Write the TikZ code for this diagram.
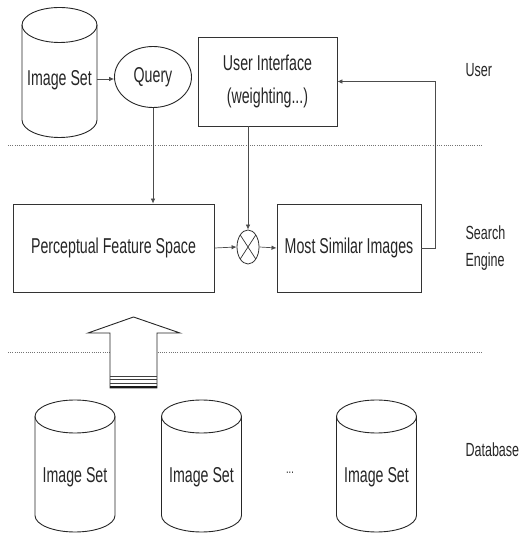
\documentclass[tikz,border=0pt]{standalone}
\usepackage{fontspec}
\setmainfont[FakeStretch=0.66]{Liberation Sans}
\usetikzlibrary{arrows.meta,shapes.geometric}

% cylinder outline: #1 name, #2 centre x, #3 top-ellipse centre y,
% #4 bottom-ellipse centre y, #5 x radius, #6 y radius
\newcommand\dbdrum[6]{%
  \draw[drum] (#2,#3) ellipse [x radius=#5, y radius=#6];
  \draw[drum] (#2-#5,#3) -- (#2-#5,#4)
     arc [start angle=180, end angle=360, x radius=#5, y radius=#6]
     -- (#2+#5,#3);
}

\begin{document}
\begin{tikzpicture}[x=1pt,y=1pt,
  every node/.style={font=\fontsize{21.5}{24}\selectfont, text=black!85},
  drum/.style={draw=black!85, line width=0.9pt},
  box/.style={draw=black!80, line width=0.9pt, rectangle, inner sep=0pt},
  conn/.style={draw=black!70, line width=0.7pt},
  tip/.style={-{Latex[length=5pt,width=4.5pt]}},
  sep/.style={draw=black!55, line width=0.9pt, dash pattern=on 1pt off 1.2pt},
  lbl/.style={font=\fontsize{19}{27}\selectfont, align=left, anchor=west}]
\useasboundingbox (0,0) rectangle (521,535);

% ---- user level ----
\dbdrum{set0}{59.5}{510}{415}{37.5}{17.5}
\node[minimum width=75, minimum height=60] (set0) at (59.5,455) {Image Set};
\node[draw=black!85, line width=0.9pt, ellipse, minimum width=77, minimum height=61, inner sep=0pt]
  (query) at (153,458) {Query};
\node[box, minimum width=139, minimum height=89, align=center,
      font=\fontsize{21.5}{33}\selectfont] (ui) at (267.5,453.5) {User Interface\\(weighting...)};
\node[lbl] (luser) at (462,465) {User};

\draw[sep] (8,390) -- (483,390);

% ---- search engine level ----
\node[box, minimum width=201, minimum height=88] (pfs) at (113.5,287) {Perceptual Feature Space};
\node[box, minimum width=144, minimum height=88] (msi) at (349,287) {Most Similar Images};
\node[draw=black!80, line width=0.8pt, ellipse, minimum width=22, minimum height=34, inner sep=0pt,
      path picture={\draw[black!80, line width=0.7pt]
        (path picture bounding box.north west) -- (path picture bounding box.south east)
        (path picture bounding box.south west) -- (path picture bounding box.north east);}]
  (mix) at (248,288) {};
\node[lbl] (lsearch) at (462,287) {Search\\Engine};

\draw[sep] (8,183) -- (483,183);

% ---- database level ----
\dbdrum{set1}{75}{118.5}{19.5}{40}{16.5}
\dbdrum{set2}{201.5}{118.5}{19.5}{40}{16.5}
\dbdrum{set3}{376.5}{118.5}{19.5}{40}{16.5}
\node[minimum width=80, minimum height=60] (set1) at (75,58) {Image Set};
\node[minimum width=80, minimum height=60] (set2) at (201.5,58) {Image Set};
\node[minimum width=80, minimum height=60] (set3) at (376.5,58) {Image Set};
\node[font=\fontsize{14}{16}\selectfont] (dots) at (290,62) {...};
\node[lbl] (ldb) at (462,85) {Database};

% ---- connectors ----
\draw[conn,tip] (set0.east |- 0,456) -- (query.west |- 0,456);
\draw[conn,tip] (query.south) -- (query.south |- pfs.north);
\draw[conn,tip] (mix.north |- ui.south) -- (mix.north);
\draw[conn,tip] (pfs.east) -- (mix.west);
\draw[conn,tip] (mix.east) -- (msi.west);
\coordinate (turn) at (435,0);
\draw[conn,tip] (msi.east) -- (turn |- msi.east) -- (turn |- ui.east) -- (ui.east);

% ---- block arrow from the database to the feature space ----
\draw[black!85, line width=0.9pt, fill=white]
  (110,147) -- (110,202) -- (88,202) -- (133.5,218) -- (180,202) -- (157,202) -- (157,147) -- cycle;
\draw[black!75, line width=0.7pt] (110,159) -- (157,159) (110,155.5) -- (157,155.5) (110,152) -- (157,152);
\draw[black!90, line width=2pt] (110,148) -- (157,148);
\end{tikzpicture}
\end{document}
